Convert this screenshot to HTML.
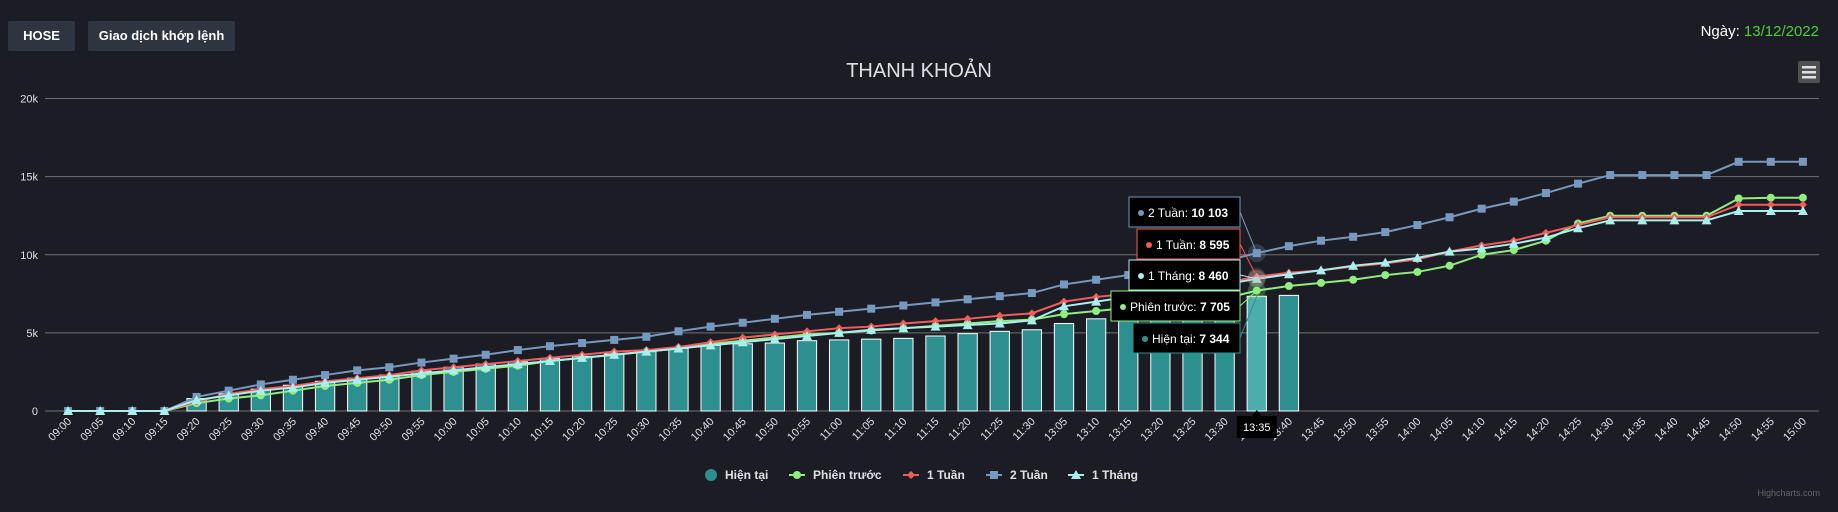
<!DOCTYPE html>
<html><head><meta charset="utf-8"><style>
html,body{margin:0;padding:0;background:#1c1c25;width:1838px;height:512px;overflow:hidden;font-family:"Liberation Sans","Noto Sans CJK SC",sans-serif}
.btn{position:absolute;top:21px;height:30px;background:#2e3440;border-radius:2px;color:#fff;font-size:13px;font-weight:bold;line-height:30px;text-align:center}
</style></head><body>
<div class="btn" style="left:8px;width:67px">HOSE</div>
<div class="btn" style="left:88px;width:147px">Giao dịch khớp lệnh</div>
<div style="position:absolute;right:19px;top:23px;color:#fff;font-size:15px">Ngày: <span style="color:#4cd137">13/12/2022</span></div>
<svg id="c" width="1838" height="512" style="position:absolute;left:0;top:0"></svg>
<script>
const categories=["09:00","09:05","09:10","09:15","09:20","09:25","09:30","09:35","09:40","09:45","09:50","09:55","10:00","10:05","10:10","10:15","10:20","10:25","10:30","10:35","10:40","10:45","10:50","10:55","11:00","11:05","11:10","11:15","11:20","11:25","11:30","13:05","13:10","13:15","13:20","13:25","13:30","13:35","13:40","13:45","13:50","13:55","14:00","14:05","14:10","14:15","14:20","14:25","14:30","14:35","14:40","14:45","14:50","14:55","15:00"];
const hienTai=[0,0,0,0,800,1100,1400,1650,1900,2100,2300,2550,2800,3000,3150,3350,3500,3650,3800,4000,4200,4300,4350,4500,4550,4600,4650,4800,4950,5100,5200,5600,5900,6050,6300,6500,6900,7344,7400];
const phienTruoc=[0,0,0,0,500,800,1000,1300,1600,1800,2000,2300,2500,2700,2900,3200,3400,3600,3800,4000,4300,4500,4700,4900,5000,5150,5300,5450,5600,5750,5850,6200,6400,6600,6800,7000,7200,7705,8000,8200,8400,8700,8900,9300,10000,10300,10900,12000,12500,12500,12500,12500,13600,13650,13650];
const motTuan=[0,0,0,0,600,1100,1400,1600,1900,2100,2300,2600,2800,3000,3200,3400,3600,3800,3900,4100,4400,4700,4900,5100,5300,5400,5600,5750,5900,6100,6250,7000,7300,7500,7800,8000,8200,8595,8850,9000,9250,9450,9700,10200,10600,10900,11400,11900,12400,12400,12400,12400,13200,13200,13200];
const haiTuan=[0,0,0,0,900,1300,1700,2000,2300,2600,2800,3100,3350,3600,3900,4150,4350,4550,4750,5100,5400,5650,5900,6150,6350,6550,6750,6950,7150,7350,7550,8100,8400,8700,9000,9300,9600,10103,10550,10900,11150,11450,11900,12400,12950,13400,13950,14550,15100,15100,15100,15100,15950,15950,15950];
const motThang=[0,0,0,0,700,1000,1300,1500,1800,2000,2200,2400,2600,2800,3000,3200,3400,3600,3800,4000,4200,4400,4600,4800,5000,5200,5300,5400,5500,5600,5800,6700,7000,7300,7600,7900,8100,8460,8750,9000,9300,9500,9800,10200,10400,10700,11100,11700,12200,12200,12200,12200,12800,12800,12800];
const yTicks=[0,5000,10000,15000,20000];
const yTickLabels=["0","5k","10k","15k","20k"];
const seriesNames=["Hiện tại","Phiên trước","1 Tuần","2 Tuần","1 Tháng"];
const hoverIndex=37;

const svg=document.getElementById('c');const NS='http://www.w3.org/2000/svg';
const L=52,R=1819,T=98.5,B=411,YMAX=20000;
const step=(R-L)/categories.length;
const x=i=>L+step*(i+0.5);
const y=v=>B-(v/YMAX)*(B-T);
function el(t,a,p){const e=document.createElementNS(NS,t);for(const k in a)e.setAttribute(k,a[k]);(p||svg).appendChild(e);return e;}
// title
let t=el('text',{x:919,y:77,fill:'#e0e0e3','font-size':20,'text-anchor':'middle'});t.textContent='THANH KHOẢN';


// menu
let mg=el('g',{});


el('rect',{x:1798,y:61,width:22,height:22,rx:2,fill:'#505053'},mg);
[67,72,77].forEach(yy=>el('rect',{x:1802,y:yy-1,width:14,height:2.5,fill:'#e0e0e3'},mg));
// grid
yTicks.forEach((v,i)=>{
  let g=el('line',{x1:45,x2:R,y1:y(v),y2:y(v),stroke:i==0?'#707073':'#707073','stroke-width':1});
  
  
  let l=el('text',{x:38,y:y(v)+4,fill:'#e0e0e3','font-size':11,'text-anchor':'end'});l.textContent=yTickLabels[i];
  
  
});
// x labels
categories.forEach((c,i)=>{
  let l=el('text',{x:x(i)+4,y:422,fill:'#e0e0e3','font-size':11,'text-anchor':'end',transform:`rotate(-45 ${x(i)+4} 422)`});l.textContent=c;
  
  
});
// bars
const bw=step*0.6;
hienTai.forEach((v,i)=>{
  let r=el('rect',{x:x(i)-bw/2,y:y(v),width:bw,height:B-y(v),fill:i==hoverIndex?'#4aaeac':'#2b908f',stroke:'#fff','stroke-width':1});
  
  
});
function line(data,color,marker,name){
  let d=data.map((v,i)=>(i?'L':'M')+x(i)+' '+y(v)).join(' ');
  let p=el('path',{d:d,fill:'none',stroke:color,'stroke-width':2});
  
  
  data.forEach((v,i)=>{
    let m,cx=x(i),cy=y(v);
    if(marker=='circle')m=el('circle',{cx:cx,cy:cy,r:4,fill:color});
    else if(marker=='diamond')m=el('path',{d:`M${cx} ${cy-4}L${cx+4} ${cy}L${cx} ${cy+4}L${cx-4} ${cy}Z`,fill:color});
    else if(marker=='square')m=el('rect',{x:cx-4,y:cy-4,width:8,height:8,fill:color});
    else m=el('path',{d:`M${cx} ${cy-5}L${cx+5} ${cy+4}L${cx-5} ${cy+4}Z`,fill:color});
    
    
  });
}
line(phienTruoc,'#90ee7e','circle','phien-truoc');
line(motTuan,'#f45b5b','diamond','1-tuan');
line(haiTuan,'#7798bf','square','2-tuan');
line(motThang,'#aaeeee','triangle','1-thang');
// hover halos
[[haiTuan,'#7798bf'],[motTuan,'#f45b5b'],[motThang,'#aaeeee'],[phienTruoc,'#90ee7e']].forEach(([d,c])=>el('circle',{cx:x(hoverIndex),cy:y(d[hoverIndex]),r:9,fill:c,opacity:0.25}));
// tooltips
const tips=[[haiTuan,'#7798bf',0,1129,197,'2 Tuần'],[motTuan,'#f45b5b',1,1137,229,'1 Tuần'],[motThang,'#aaeeee',4,1129,260,'1 Tháng'],[phienTruoc,'#90ee7e',1,1111,291,'Phiên trước'],[hienTai,'#2b908f',0,1133,323,'Hiện tại']];
const px=x(hoverIndex);
tips.forEach(([d,c,_,tx,ty,n])=>{
  let g=el('g',{});
  
  
  el('line',{x1:1240,y1:ty+15,x2:px,y2:y(d[hoverIndex]),stroke:c,'stroke-width':1},g);
  el('rect',{x:tx,y:ty,width:1240-tx,height:30,fill:'#000',stroke:c,'stroke-width':1},g);
  el('circle',{cx:tx+12,cy:ty+16,r:3,fill:c},g);
  let tt=el('text',{x:tx+19,y:ty+20,fill:'#fff','font-size':12},g);
  tt.textContent=n+': ';
  let b=el('tspan',{'font-weight':'bold'},tt);b.textContent=d[hoverIndex].toLocaleString('fr-FR').replace(/\u202f|\u00a0/g,' ');
});
// crosshair label
let cg=el('g',{});


el('rect',{x:px-20,y:416,width:40,height:22,fill:'#000'},cg);
el('path',{d:`M${px-5} 416L${px} 410L${px+5} 416Z`,fill:'#000'},cg);
let ct=el('text',{x:px,y:431,fill:'#fff','font-size':11,'text-anchor':'middle'},cg);ct.textContent=categories[hoverIndex];
// legend
const lx=[711,797,911,994,1076],lc=['#2b908f','#90ee7e','#f45b5b','#7798bf','#aaeeee'],lm=['bigcircle','circle','diamond','square','triangle'];
seriesNames.forEach((n,i)=>{
  let g=el('g',{});
  
  
  let cx=lx[i],cy=475;
  if(lm[i]=='bigcircle')el('circle',{cx:cx,cy:cy,r:6,fill:lc[i]},g);
  else{
    el('line',{x1:cx-8,x2:cx+8,y1:cy,y2:cy,stroke:lc[i],'stroke-width':2},g);
    if(lm[i]=='circle')el('circle',{cx:cx,cy:cy,r:4,fill:lc[i]},g);
    else if(lm[i]=='diamond')el('path',{d:`M${cx} ${cy-4}L${cx+4} ${cy}L${cx} ${cy+4}L${cx-4} ${cy}Z`,fill:lc[i]},g);
    else if(lm[i]=='square')el('rect',{x:cx-4,y:cy-4,width:8,height:8,fill:lc[i]},g);
    else el('path',{d:`M${cx} ${cy-5}L${cx+5} ${cy+4}L${cx-5} ${cy+4}Z`,fill:lc[i]},g);
  }
  let tx=el('text',{x:cx+(i==0?14:16),y:cy+4,fill:'#e0e0e3','font-size':12,'font-weight':'bold'},g);tx.textContent=n;
});
let cr=el('text',{x:1820,y:496,fill:'#666','font-size':9,'text-anchor':'end'});cr.textContent='Highcharts.com';


</script>
</body></html>
